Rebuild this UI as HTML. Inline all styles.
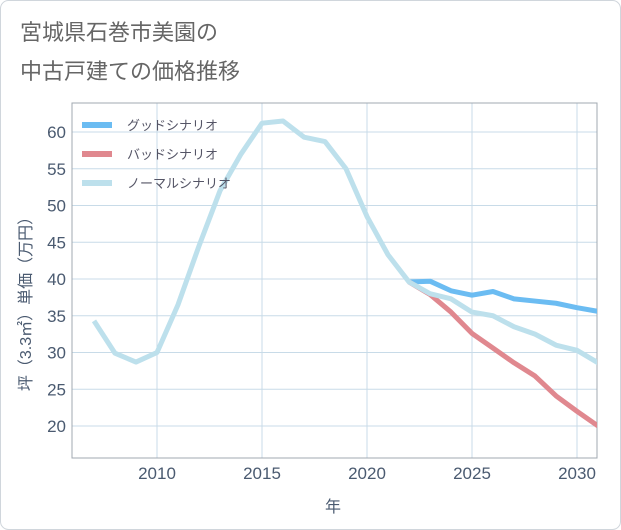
<!DOCTYPE html>
<html><head><meta charset="utf-8"><style>
body{margin:0;background:#fff;}
svg{display:block;font-family:"Liberation Sans","Noto Sans CJK JP",sans-serif;}
</style></head><body>
<svg width="621" height="530" viewBox="0 0 621 530">
<rect x="0.5" y="0.5" width="620" height="529" rx="8" fill="#fff" stroke="#d0d6dc"/>
<text x="20" y="40" font-size="22" fill="#666">宮城県石巻市美園の</text>
<text x="20" y="79" font-size="22" fill="#666">中古戸建ての価格推移</text>
<g id="grid"></g>
<rect x="72" y="103" width="525" height="355" fill="none" stroke="#a0a8b0"/>
<g id="series"></g>
<g id="axes"></g>
<text x="333" y="512" font-size="16" fill="#4a5a70" text-anchor="middle">年</text>
<text transform="translate(31,300) rotate(-90)" font-size="16" fill="#4a5a70" text-anchor="middle">坪（3.3㎡）単価（万円）</text>
<g>
<rect x="82" y="122" width="30" height="6" fill="#6bbcf2"/>
<text x="127" y="130" font-size="13" fill="#556">グッドシナリオ</text>
<rect x="82" y="151" width="30" height="6" fill="#e0888f"/>
<text x="127" y="159" font-size="13" fill="#556">バッドシナリオ</text>
<rect x="82" y="180" width="30" height="6" fill="#bde0ec"/>
<text x="127" y="188" font-size="13" fill="#556">ノーマルシナリオ</text>
</g>
</svg>
<script>
const normalYears=[2007,2008,2009,2010,2011,2012,2013,2014,2015,2016,2017,2018,2019,2020,2021,2022,2023,2024,2025,2026,2027,2028,2029,2030,2031];
const normalValues=[34.3,29.9,28.7,30.0,36.5,44.5,52,57,61.2,61.5,59.3,58.7,55,48.5,43.3,39.6,38,37.3,35.5,35,33.5,32.5,31,30.3,28.6];
const forecastYears=[2022,2023,2024,2025,2026,2027,2028,2029,2030,2031];
const goodValues=[39.6,39.7,38.4,37.8,38.3,37.3,37,36.7,36.1,35.6];
const badValues=[39.6,37.9,35.5,32.6,30.6,28.6,26.8,24.1,22,20];
const xTicks=[2010,2015,2020,2025,2030];
const yTicks=[20,25,30,35,40,45,50,55,60];
const NS="http://www.w3.org/2000/svg";
const xs=y=>157+(y-2010)*21;
const ys=v=>426-(v-20)*7.35;
const grid=document.getElementById('grid'),axes=document.getElementById('axes'),ser=document.getElementById('series');
function mk(t,a){const e=document.createElementNS(NS,t);for(const k in a)e.setAttribute(k,a[k]);return e;}
xTicks.forEach(t=>{
 const l=mk('line',{x1:xs(t),x2:xs(t),y1:103,y2:458,stroke:'#c8dbe8','stroke-width':1});
 
 
 grid.appendChild(l);
 const tx=mk('text',{x:xs(t),y:479,'font-size':17,fill:'#4a5a70','text-anchor':'middle'});
 tx.textContent=t;
 
 
 axes.appendChild(tx);
});
yTicks.forEach(t=>{
 const l=mk('line',{x1:72,x2:597,y1:ys(t),y2:ys(t),stroke:'#c8dbe8','stroke-width':1});
 
 
 grid.appendChild(l);
 const tx=mk('text',{x:66,y:ys(t)+6,'font-size':17,fill:'#4a5a70','text-anchor':'end'});
 tx.textContent=t;
 
 
 axes.appendChild(tx);
});
function line(years,vals,color,name){
 const p=mk('polyline',{points:years.map((y,i)=>xs(y)+','+ys(vals[i])).join(' '),fill:'none',stroke:color,'stroke-width':5,'stroke-linejoin':'round'});
 
 
 ser.appendChild(p);
}
const clip=mk('clipPath',{id:'pc'});clip.appendChild(mk('rect',{x:72,y:103,width:525,height:355}));
document.querySelector('svg').appendChild(clip);
ser.setAttribute('clip-path','url(#pc)');
line(forecastYears,goodValues,'#6bbcf2','good-scenario-line');
line(forecastYears,badValues,'#e0888f','bad-scenario-line');
line(normalYears,normalValues,'#bde0ec','normal-scenario-line');
</script>
</body></html>
